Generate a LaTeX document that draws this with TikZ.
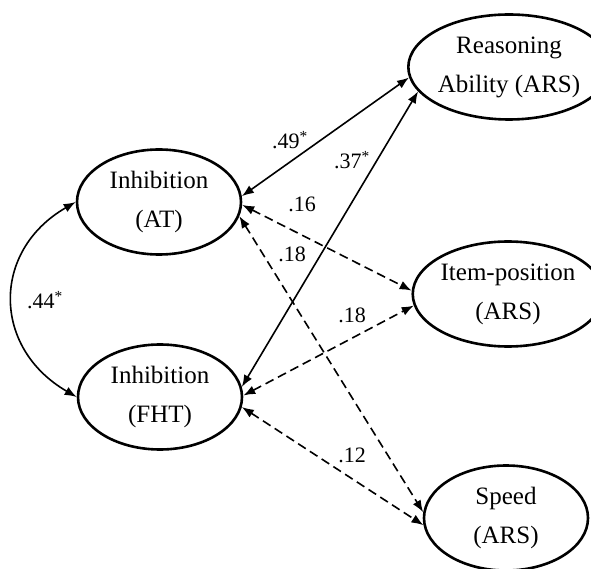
\documentclass[tikz,border=0pt]{standalone}
\usepackage{fontspec}
\setmainfont{Liberation Serif}
\usetikzlibrary{arrows.meta,shapes.geometric}

\begin{document}
\begin{tikzpicture}[x=1pt,y=1pt,
    latent/.style={ellipse, draw, line width=2.6pt, minimum width=164pt,
      minimum height=105pt, inner sep=0pt, align=center,
      font=\fontsize{25}{39}\selectfont},
    cov/.style={{Latex[length=12pt,width=9pt]}-{Latex[length=12pt,width=9pt]},
      line width=1.6pt},
    ns/.style={cov, dash pattern=on 9pt off 5pt},
    coef/.style={font=\fontsize{22}{26}\selectfont}]
  \useasboundingbox (0,0) rectangle (591,568);
  % Inhibition
  \node[latent] (at) at (159, 366) {Inhibition\\(AT)};
  \node[latent] (fht) at (160, 171) {Inhibition\\(FHT)};
  % ARS
  \node[latent] (ra) at (509, 501) {Reasoning\\Ability (ARS)};
  \node[latent] (ip) at (508, 274) {Item-position\\(ARS)};
  \node[latent] (sp) at (506, 50) {Speed\\(ARS)};
  % Korrelationen
  \draw[cov] (at.west) to[out=210, in=150, looseness=1.28] (fht.west);
  \node[coef] at (45, 268) {.44\textsuperscript{*}};
  \draw[cov] (at.4) -- (ra.186);
  \draw[cov] (fht.7) -- (ra.195);
  \draw[ns] (at.-2) -- (ip.178);
  \draw[ns] (at.-10) -- (sp.176);
  \draw[ns] (fht.1) -- (ip.187);
  \draw[ns] (fht.-7) -- (sp.185);
  \node[coef] at (290, 428) {.49\textsuperscript{*}};
  \node[coef] at (352, 408) {.37\textsuperscript{*}};
  \node[coef] at (302, 364) {.16};
  \node[coef] at (292, 314) {.18};
  \node[coef] at (352, 253) {.18};
  \node[coef] at (352, 113) {.12};
\end{tikzpicture}
\end{document}
